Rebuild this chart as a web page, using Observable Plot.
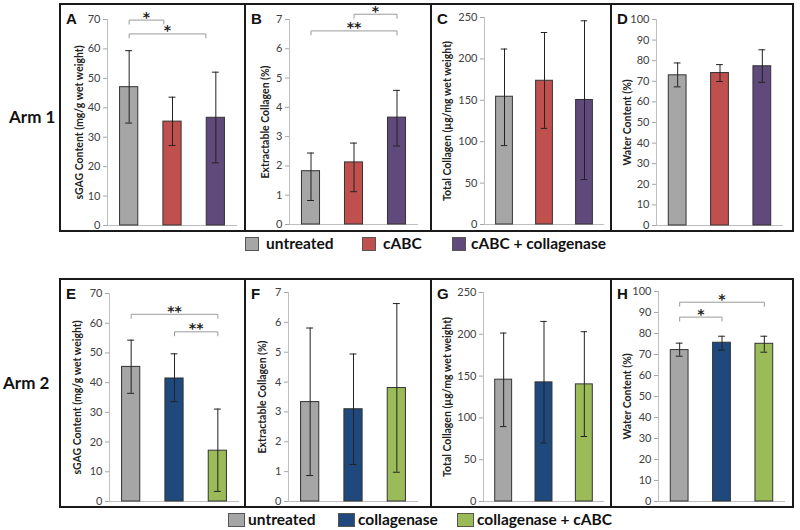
<!DOCTYPE html>
<html>
<head>
<meta charset="utf-8">
<script src="https://cdn.jsdelivr.net/npm/d3@7"></script>
<script src="https://cdn.jsdelivr.net/npm/@observablehq/plot@0.6"></script>
<style>
  html, body { margin: 0; padding: 0; background: #fff; }
  #root { position: relative; width: 800px; height: 530px; background: #fff; font-family: Lato, "Open Sans", sans-serif; overflow: hidden; }
  .box { position: absolute; border: 2px solid #1a1a1a; box-sizing: border-box; }
  .plot { position: absolute; }
  .letter { position: absolute; font-family: "Liberation Sans", Arial, sans-serif; font-weight: bold; font-size: 15px; line-height: 1; color: #111; }
  .arm { position: absolute; font-family: Lato, sans-serif; font-weight: bold; font-size: 17px; line-height: 1; color: #111; }
  .sw { position: absolute; width: 14px; height: 14px; border: 1px solid #555; box-sizing: border-box; }
  .lg { position: absolute; font-family: Lato, sans-serif; font-weight: bold; font-size: 15.5px; line-height: 1; color: #111; white-space: nowrap; }
  svg g[aria-label="y-axis tick"] path, svg .tick line { stroke: #a6a6a6; }
  svg .domain { display: none; }
</style>
</head>
<body>
<div id="root"></div>
<script>
// ---------- data ----------
const arm1Groups = ["untreated", "cABC", "cABC + collagenase"];
const arm2Groups = ["untreated", "collagenase", "collagenase + cABC"];

// Arm 1
const sgag1Mean = [47.0, 35.3, 36.6];
const sgag1Lo   = [34.8, 27.2, 21.3];
const sgag1Hi   = [59.4, 43.6, 52.1];
const extr1Mean = [1.82, 2.12, 3.65];
const extr1Lo   = [0.82, 1.12, 2.68];
const extr1Hi   = [2.44, 2.78, 4.58];
const tot1Mean  = [154.3, 173.6, 150.4];
const tot1Lo    = [95.3, 116.1, 54.3];
const tot1Hi    = [211.9, 231.9, 246.0];
const wat1Mean  = [72.9, 74.0, 77.3];
const wat1Lo    = [67.3, 69.9, 69.5];
const wat1Hi    = [78.9, 78.1, 85.3];

// Arm 2
const sgag2Mean = [45.3, 41.4, 17.1];
const sgag2Lo   = [36.4, 33.6, 3.4];
const sgag2Hi   = [54.3, 49.7, 31.1];
const extr2Mean = [3.33, 3.09, 3.80];
const extr2Lo   = [0.87, 1.24, 0.98];
const extr2Hi   = [5.81, 4.94, 6.63];
const tot2Mean  = [145.7, 142.5, 140.1];
const tot2Lo    = [89.6, 70.1, 77.7];
const tot2Hi    = [201.5, 215.4, 203.1];
const wat2Mean  = [72.1, 75.6, 75.1];
const wat2Lo    = [69.2, 72.1, 71.1];
const wat2Hi    = [75.4, 78.7, 78.7];

// tick values
const ticksSgag  = [0, 10, 20, 30, 40, 50, 60, 70];
const ticksExtr  = [0, 1, 2, 3, 4, 5, 6, 7];
const ticksTot   = [0, 50, 100, 150, 200, 250];
const ticksWater = [0, 10, 20, 30, 40, 50, 60, 70, 80, 90, 100];

// axis titles
const labelSgag  = "sGAG Content (mg/g wet weight)";
const labelExtr  = "Extractable Collagen (%)";
const labelTot   = "Total Collagen (µg/mg wet weight)";
const labelWater = "Water Content (%)";

// significance brackets (from/to = group index, y = data units)
const sigA = [{from: 0, to: 0.8, y: 69.8, label: "*"}, {from: 0, to: 1.77, y: 65.1, label: "*"}];
const sigB = [{from: 1, to: 2, y: 7.18, label: "*"}, {from: 0, to: 2, y: 6.61, label: "**"}];
const sigE = [{from: 0, to: 2, y: 63.0, label: "**"}, {from: 1, to: 2, y: 57.1, label: "**"}];
const sigH = [{from: 0, to: 2, y: 94.9, label: "*"}, {from: 0, to: 1, y: 87.8, label: "*"}];

// ---------- styles ----------
const arm1Colors = ["#a6a6a6", "#c0504d", "#604a7b"];
const arm2Colors = ["#a6a6a6", "#1f497d", "#9bbb59"];

const root = document.getElementById("root");

function panel(cfg) {
  const {groups, colors, mean, lo, hi, ticks, label, sig = [], x0, y0, w, h, mL, mR, mT, mB, labelDist, letter} = cfg;
  const yMax = ticks[ticks.length - 1];
  const data = groups.map((g, i) => ({i, g, m: mean[i], lo: lo[i], hi: hi[i]}));
  const tickLen = yMax * 4 / (h - mT - mB);
  const bl = sig.flatMap((b, k) => [
    {k, x: b.from, y: b.y - tickLen}, {k, x: b.from, y: b.y},
    {k, x: b.to, y: b.y}, {k, x: b.to, y: b.y - tickLen}
  ]);
  const svg = Plot.plot({
    width: w, height: h,
    marginLeft: mL, marginRight: mR, marginTop: mT, marginBottom: mB,
    style: {fontFamily: "Lato, 'Open Sans', sans-serif", fontSize: "11px", color: "#404040", background: "transparent", overflow: "visible"},
    x: {type: "linear", domain: [-0.5, groups.length - 0.5], axis: null},
    y: {domain: [0, yMax], ticks: ticks, tickSize: 4, tickPadding: 3, label: null, tickFormat: d => String(d)},
    color: {domain: groups, range: colors},
    marks: [
      Plot.ruleY([0], {stroke: "#bfbfbf"}),
      Plot.ruleX([-0.5], {y1: 0, y2: yMax, stroke: "#bfbfbf"}),
      Plot.rectY(data, {x1: d => d.i - 0.21, x2: d => d.i + 0.21, y1: 0, y2: "m", fill: "g", stroke: "#333", strokeWidth: 1}),
      Plot.ruleX(data, {x: "i", y1: "lo", y2: "hi", stroke: "#222", strokeWidth: 1}),
      Plot.ruleY(data, {y: "hi", x1: d => d.i - 0.08, x2: d => d.i + 0.08, stroke: "#222", strokeWidth: 1}),
      Plot.ruleY(data, {y: "lo", x1: d => d.i - 0.08, x2: d => d.i + 0.08, stroke: "#222", strokeWidth: 1}),
      Plot.line(bl, {x: "x", y: "y", z: "k", stroke: "#9a9a9a", strokeWidth: 1}),
      Plot.text(sig, {x: d => (d.from + d.to) / 2, y: "y", text: "label", dy: -3, fontSize: 14, fontWeight: "bold", fill: "#222", lineAnchor: "middle", fontFamily: "'DejaVu Sans', sans-serif", letterSpacing: "1px"}),
      Plot.text([label], {frameAnchor: "left", textAnchor: "middle", rotate: -90, dx: -labelDist, text: d => d, fontSize: 10.5, fontWeight: "bold", fill: "#222"})
    ]
  });
  svg.classList.add("plot");
  svg.style.left = x0 + "px";
  svg.style.top = y0 + "px";
  root.appendChild(svg);

  const box = document.createElement("div");
  box.className = "box";
  box.style.left = (x0 - 1) + "px";
  box.style.top = (y0 - 1) + "px";
  box.style.width = (w + 2) + "px";
  box.style.height = (h + 2) + "px";
  root.appendChild(box);

  const lt = document.createElement("div");
  lt.className = "letter";
  lt.textContent = letter;
  lt.style.left = (x0 + 6) + "px";
  lt.style.top = (y0 + 7) + "px";
  root.appendChild(lt);
}

const top0 = 4, topH = 227, bot0 = 279, botH = 228;

panel({letter: "A", groups: arm1Groups, colors: arm1Colors, mean: sgag1Mean, lo: sgag1Lo, hi: sgag1Hi, ticks: ticksSgag, label: labelSgag, sig: sigA,
  x0: 60, y0: top0, w: 185, h: topH, mL: 47, mR: 8, mT: 15, mB: 6, labelDist: 28});
panel({letter: "B", groups: arm1Groups, colors: arm1Colors, mean: extr1Mean, lo: extr1Lo, hi: extr1Hi, ticks: ticksExtr, label: labelExtr, sig: sigB,
  x0: 245, y0: top0, w: 186, h: topH, mL: 44, mR: 13, mT: 15, mB: 7, labelDist: 24});
panel({letter: "C", groups: arm1Groups, colors: arm1Colors, mean: tot1Mean, lo: tot1Lo, hi: tot1Hi, ticks: ticksTot, label: labelTot,
  x0: 431, y0: top0, w: 180, h: topH, mL: 53, mR: 7, mT: 13, mB: 7, labelDist: 37});
panel({letter: "D", groups: arm1Groups, colors: arm1Colors, mean: wat1Mean, lo: wat1Lo, hi: wat1Hi, ticks: ticksWater, label: labelWater,
  x0: 611, y0: top0, w: 182, h: topH, mL: 45, mR: 10, mT: 15, mB: 6, labelDist: 29});

panel({letter: "E", groups: arm2Groups, colors: arm2Colors, mean: sgag2Mean, lo: sgag2Lo, hi: sgag2Hi, ticks: ticksSgag, label: labelSgag, sig: sigE,
  x0: 60, y0: bot0, w: 185, h: botH, mL: 49, mR: 6, mT: 14, mB: 6, labelDist: 32});
panel({letter: "F", groups: arm2Groups, colors: arm2Colors, mean: extr2Mean, lo: extr2Lo, hi: extr2Hi, ticks: ticksExtr, label: labelExtr,
  x0: 245, y0: bot0, w: 186, h: botH, mL: 43, mR: 13, mT: 13, mB: 6, labelDist: 26});
panel({letter: "G", groups: arm2Groups, colors: arm2Colors, mean: tot2Mean, lo: tot2Lo, hi: tot2Hi, ticks: ticksTot, label: labelTot,
  x0: 431, y0: bot0, w: 180, h: botH, mL: 52, mR: 7, mT: 13, mB: 6, labelDist: 36});
panel({letter: "H", groups: arm2Groups, colors: arm2Colors, mean: wat2Mean, lo: wat2Lo, hi: wat2Hi, ticks: ticksWater, label: labelWater, sig: sigH,
  x0: 611, y0: bot0, w: 182, h: botH, mL: 47, mR: 8, mT: 12, mB: 6, labelDist: 31});

// arm labels
function addText(cls, txt, x, y) {
  const d = document.createElement("div");
  d.className = cls; d.textContent = txt;
  d.style.left = x + "px"; d.style.top = y + "px";
  root.appendChild(d);
  return d;
}
addText("arm", "Arm 1", 9, 108);
addText("arm", "Arm 2", 3, 374);

// legends
function legend(groups, colors, y, xs, tx, sw) {
  groups.forEach((g, i) => {
    const s = document.createElement("div");
    s.className = "sw";
    s.style.left = xs[i] + "px"; s.style.top = y + "px";
    s.style.width = sw + "px";
    s.style.background = colors[i];
    root.appendChild(s);
    addText("lg", g, tx[i], y - 1);
  });
}
legend(arm1Groups, arm1Colors, 237, [245, 362, 452], [266, 383, 471], 14);
legend(arm2Groups, arm2Colors, 513, [228, 338, 457], [248, 358, 477], 17);
</script>
</body>
</html>
